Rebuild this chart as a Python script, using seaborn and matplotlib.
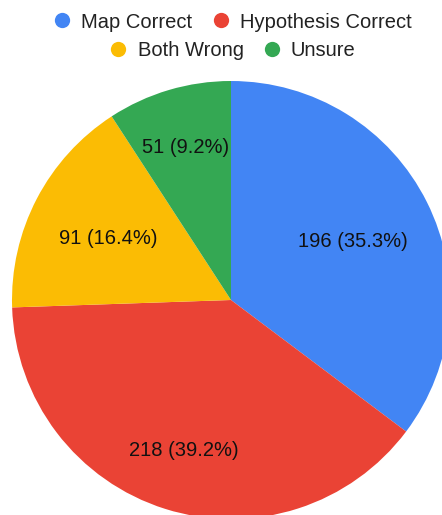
import numpy as np
import matplotlib
matplotlib.use("Agg")
import matplotlib.pyplot as plt
from matplotlib.lines import Line2D
import seaborn as sns

# Chart data
categories = ['Map Correct', 'Hypothesis Correct', 'Both Wrong', 'Unsure']
counts = [196, 218, 91, 51]
colors = ['#4285F4', '#EA4335', '#FBBC04', '#34A853']
# radial position of each slice label (fraction of radius)
label_dist = [0.62, 0.71, 0.63, 0.735]

sns.set_theme(style="white")
plt.rcParams['font.family'] = ['Liberation Sans', 'DejaVu Sans']

W, H = 442, 515
fig = plt.figure(figsize=(W / 100, H / 100), dpi=100)
ax = fig.add_axes([0, 0, 1, 1])

total = sum(counts)
cx, cy, r = 231, H - 300, 219


def fmt(pct):
    v = int(round(pct * total / 100))
    return f"{v} ({pct:.1f}%)"


wedges, texts, autotexts = ax.pie(
    counts, colors=colors, startangle=90, counterclock=False,
    center=(cx, cy), radius=r, autopct=fmt,
    wedgeprops=dict(linewidth=0),
    textprops=dict(fontsize=14.5, color='#111111'))

# move the slice labels out to their own distances
for w, t, d in zip(wedges, autotexts, label_dist):
    mid = np.deg2rad((w.theta1 + w.theta2) / 2)
    t.set_position((cx + r * d * np.cos(mid), cy + r * d * np.sin(mid) - 2))
    t.set_ha('center')
    t.set_va('center')

ax.set_xlim(0, W)
ax.set_ylim(0, H)
ax.set_aspect('auto')
ax.axis('off')

# legend, two centred rows
handles = [Line2D([], [], linestyle='none', marker='o', markersize=11,
                  markerfacecolor=c, markeredgewidth=0) for c in colors]
rows = [(0, 2, 22), (2, 4, 51)]
for a, b, ypix in rows:
    leg = fig.legend(handles[a:b], categories[a:b], loc='center',
                     bbox_to_anchor=(233 / W, 1 - ypix / H), ncol=2,
                     frameon=False, fontsize=14.5, handlelength=0.8,
                     handletextpad=0.55, columnspacing=1.0, borderpad=0,
                     labelcolor='#222222')

fig.savefig('out.png', dpi=100)
